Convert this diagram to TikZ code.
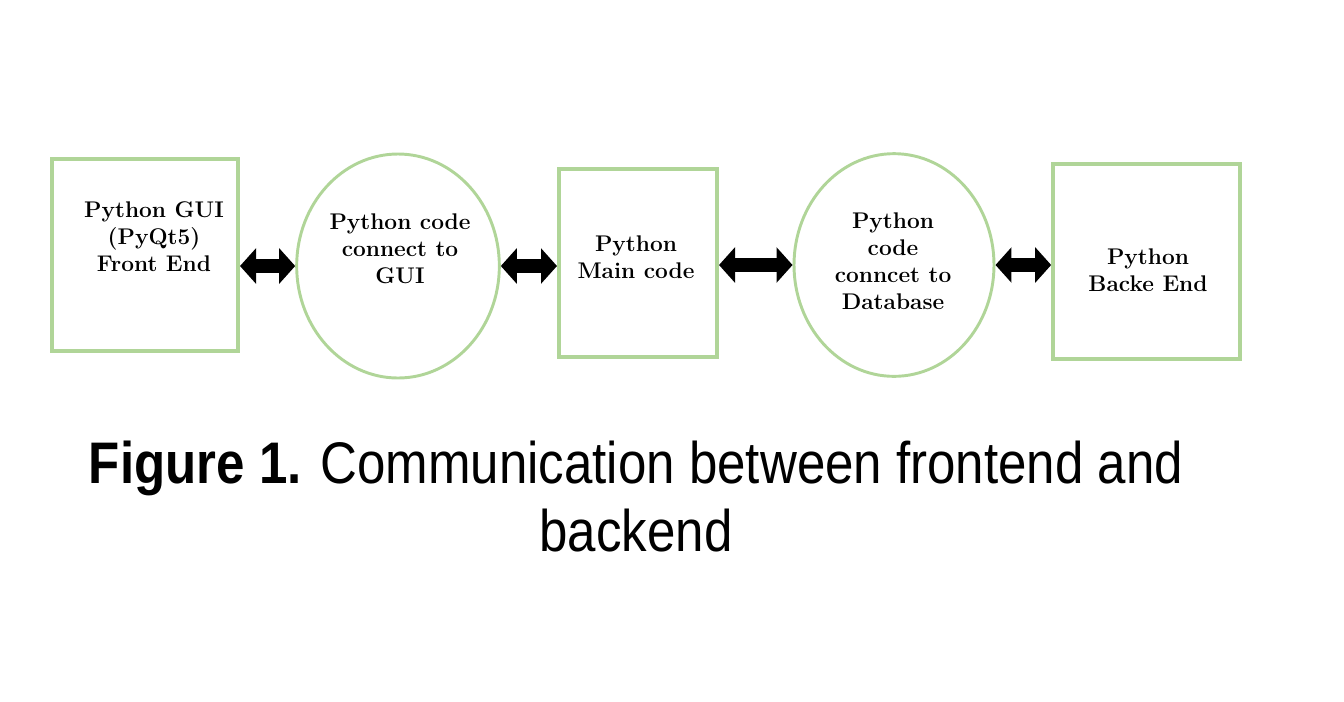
\documentclass[tikz,border=0pt]{standalone}
\usepackage{fontspec}
\newfontfamily\captionfont{Liberation Sans}
\usetikzlibrary{shapes.geometric,arrows.meta}

\definecolor{boxgreen}{RGB}{176,213,152}

\tikzset{
	block/.style = {draw=boxgreen, line width=3pt, rectangle, inner sep=0pt},
	bubble/.style = {draw=boxgreen, line width=2.2pt, ellipse, inner sep=0pt},
	boxtext/.style = {align=center, font=\fontsize{17}{20.25}\selectfont\bfseries},
	link/.style = {line width=10.5pt, {Triangle[length=12pt,width=26pt]}-{Triangle[length=12pt,width=26pt]}}
}

\begin{document}
\begin{tikzpicture}[x=0.75pt, y=-0.75pt]
	\useasboundingbox (0,0) rectangle (1344,701);
	% blocks and bubbles
	\node[block, minimum width=139.5pt, minimum height=144pt] (gui) at (145,255) {};
	\node[bubble, minimum width=152pt, minimum height=168pt] (guicode) at (398,266) {};
	\node[block, minimum width=118.5pt, minimum height=141pt] (main) at (638,263) {};
	\node[bubble, minimum width=150pt, minimum height=167pt] (dbcode) at (894,265) {};
	\node[block, minimum width=140pt, minimum height=146pt] (back) at (1146.5,261.5) {};
	% texts
	\node[boxtext] (guitxt) at (154,237) {Python GUI\\(PyQt5)\\Front End};
	\node[boxtext] (guicodetxt) at (400,249) {Python code\\connect to\\GUI};
	\node[boxtext] (maintxt) at (636,257) {Python\\Main code};
	\node[boxtext] (dbcodetxt) at (893,261) {Python\\code\\conncet to\\Database};
	\node[boxtext] (backtxt) at (1148,270) {Python\\Backe End};
	% arrows
	\draw[link] (gui.east |- guicode.west) -- (guicode.west);
	\draw[link] (guicode.east) -- (guicode.east -| main.west);
	\draw[link] (main.east |- dbcode.west) -- (dbcode.west);
	\draw[link] (dbcode.east) -- (dbcode.east -| back.west);
	% caption
	\node[align=center, font=\captionfont\fontsize{44}{51}\selectfont, xscale=0.87] (caption) at (636,497)
		{\textbf{Figure 1.} Communication between frontend and\\backend};
\end{tikzpicture}
\end{document}
